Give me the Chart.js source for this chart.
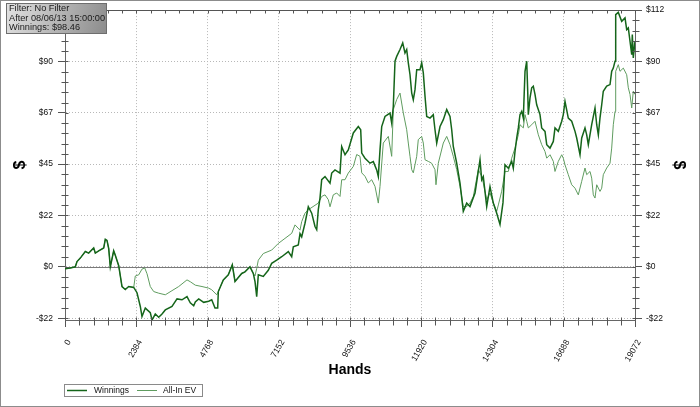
<!DOCTYPE html>
<html>
<head>
<meta charset="utf-8">
<title>Winnings</title>
<script src="https://cdn.jsdelivr.net/npm/chart.js@4.4.0/dist/chart.umd.min.js"></script>
<style>
  html, body { margin: 0; padding: 0; background: #fff; }
  #wrap { width: 700px; height: 407px; }
</style>
</head>
<body>
<div id="wrap"><canvas id="myChart" width="700" height="407"></canvas></div>
<script>
// hands played (x) and dollars (y)
let winHands = [
  0, 177, 345, 402, 512, 679, 793, 960, 1014, 1128, 1295, 1348, 1405, 1462, 1516, 1629, 1683, 1797,
  1907, 2018, 2131, 2299, 2409, 2520, 2576, 2687, 2854, 2911, 3021, 3135, 3246, 3356, 3580, 3748,
  3915, 4082, 4192, 4306, 4360, 4474, 4641, 4808, 4909, 5019, 5109, 5130, 5297, 5464, 5598, 5688,
  5912, 6022, 6190, 6300, 6357, 6414, 6468, 6635, 6802, 6916, 7083, 7251, 7472, 7585, 7639, 7806,
  7863, 7920, 8030, 8141, 8255, 8365, 8422, 8475, 8532, 8589, 8700, 8867, 8924, 9034, 9202, 9258,
  9369, 9479, 9647, 9814, 9894, 9928, 10038, 10205, 10316, 10429, 10483, 10540, 10597, 10707, 10875,
  10931, 10985, 11042, 11099, 11209, 11300, 11376, 11433, 11487, 11544, 11601, 11654, 11711, 11768,
  11878, 11935, 11989, 12046, 12103, 12213, 12323, 12380, 12437, 12548, 12658, 12772, 12882, 12939,
  12992, 13106, 13217, 13327, 13441, 13551, 13719, 13886, 13943, 13996, 14110, 14220, 14331, 14445,
  14555, 14655, 14722, 14833, 14947, 15000, 15057, 15114, 15168, 15224, 15281, 15335, 15392, 15449,
  15482, 15502, 15559, 15616, 15669, 15726, 15783, 15893, 15950, 16061, 16118, 16228, 16339, 16395,
  16506, 16620, 16673, 16730, 16840, 16954, 17065, 17121, 17232, 17289, 17399, 17456, 17510, 17623,
  17734, 17791, 17845, 17901, 17958, 18011, 18125, 18236, 18292, 18346, 18403, 18426, 18513, 18627,
  18738, 18794, 18848, 18905, 18962, 18982, 19015, 19072
];
let winnings = [
  -0.9, -0.5, 0, 2.3, 3.8, 6.7, 6, 8.2, 6, 7, 8.2, 12, 11.5, 8, 0, 7, 5, 0.5,
  -8.6, -9.9, -8.6, -9, -11.3, -17.3, -21.7, -18, -20, -23.2, -20.6, -22, -20.6, -18.8, -17.3, -14,
  -14.4, -13, -15.7, -17, -15.3, -14, -15.5, -15, -14.4, -18, -18, -10.8, -5.7, -3.5, 0.9, -6.4,
  -2.9, -2.2, 0, -2.9, -6.4, -13, -3.5, -4.2, -1.5, 1.5, 2.9, 4.4, 6.6, 4.4, 8.7, 9.5,
  14.5, 13.1, 19, 26.2, 23.4, 17.6, 16.2, 24.9, 30, 38, 39.4, 36.5, 40.9, 42.3, 40.9, 52.5,
  48.9, 51, 58.4, 61.2, 59.8, 49.6, 47.4, 45.2, 45.9, 42.3, 39.4, 51, 61.2, 65.6, 67.1,
  62.7, 70, 89.7, 91.8, 94.8, 97.7, 93.3, 94.8, 89, 83.8, 75.8, 72.9, 77.3, 86,
  86, 89, 84.6, 74.4, 65.6, 64.9, 66.4, 59.8, 54, 61.2, 64.2, 68.6, 65.6, 59.8,
  52.5, 45.2, 36.5, 24.2, 27.8, 26.3, 32.2, 46.7, 38, 39.4, 26.3, 35, 27.8, 23.4,
  18.5, 28, 44.5, 43, 46, 43, 50.3, 56.2, 60.6, 66.4, 67.8, 64.9, 85.3, 89.7,
  76.6, 66.4, 73.7, 78.1, 78.8, 75.2, 70.7, 66.4, 60.6, 59.1, 53.3, 51.8, 54.7, 60.6,
  59.1, 63.5, 66.4, 72.2, 64.9, 63.5, 59.1, 56.2, 48.9, 56.2, 60.6, 57.6, 53.3, 62,
  69.3, 62, 57.6, 65, 70.7, 76.6, 78.8, 79.5, 85.3, 86.7, 89.7, 110, 111, 107.1,
  108.6, 103.5, 104.2, 98.4, 92.6, 101.3, 91.1, 98.46
];

let evHands = [
  0, 177, 345, 402, 512, 679, 793, 960, 1014, 1128, 1295, 1348, 1405, 1462, 1516, 1629, 1683, 1797,
  1907, 2018, 2131, 2299, 2352, 2466, 2576, 2667, 2744, 2854, 2968, 3135, 3356, 3580, 3804, 4082,
  4192, 4360, 4584, 4808, 4909, 5076, 5130, 5297, 5464, 5598, 5688, 5912, 6022, 6190, 6300, 6357,
  6414, 6468, 6635, 6916, 7137, 7361, 7585, 7696, 7863, 7920, 8030, 8141, 8475, 8589, 8700, 8810,
  8867, 8977, 9091, 9202, 9258, 9369, 9479, 9647, 9760, 9871, 9928, 10038, 10148, 10262, 10373,
  10483, 10540, 10650, 10818, 10931, 10985, 11099, 11209, 11320, 11433, 11487, 11544, 11601, 11654,
  11768, 11821, 11935, 11989, 12046, 12156, 12267, 12380, 12413, 12490, 12658, 12772, 12882, 12992,
  13106, 13217, 13327, 13441, 13551, 13662, 13829, 13943, 13996, 14110, 14220, 14331, 14445, 14500,
  14612, 14722, 14833, 14947, 15057, 15168, 15224, 15335, 15392, 15449, 15502, 15616, 15726, 15837,
  15950, 16061, 16118, 16228, 16339, 16395, 16506, 16620, 16673, 16730, 16840, 16954, 17065, 17175,
  17289, 17399, 17456, 17567, 17623, 17677, 17734, 17791, 17901, 17958, 18011, 18125, 18236, 18292,
  18346, 18403, 18426, 18513, 18570, 18681, 18794, 18848, 18905, 18962, 19015, 19072
];
let allInEV = [
  -0.9, -0.5, 0, 2.3, 3.8, 6.7, 6, 8.2, 6, 7, 8.2, 12, 11.5, 8, 0, 7, 5, 0.5,
  -8.6, -9.9, -8.6, -9, -4, -3.5, -1, -0.5, -3, -8.6, -10.8, -11.5, -12.2, -10.4, -8.6, -5.7,
  -6.5, -8, -8.6, -9.3, -10, -12.2, -10.8, -5.7, -3.5, 0.9, -6.4, -2.9, -2.2, 0, -2.9, -4,
  -0.7, 2.9, 5.8, 7.3, 10.2, 12.4, 14.6, 18.3, 16, 19.7, 23.4, 24.9, 27.8, 30.7, 31.4, 29.3,
  26.2, 31.4, 32.2, 30.7, 38, 38, 40.9, 43.8, 49, 48.2, 41, 39.5, 36.6, 38, 35.1,
  27.8, 35.1, 54, 56.9, 48.2, 68.6, 73, 75.8, 67.1, 59.8, 54, 48.2, 42.4, 41,
  48.2, 55.5, 56.9, 54, 46.7, 46, 45.2, 42.4, 35.8, 45.2, 54, 56.9, 53.3, 48.2,
  42.4, 35.1, 26.3, 26.3, 27.8, 30.7, 42.4, 39.5, 36.6, 29.3, 32.2, 27.8, 24.2, 27,
  33, 41.6, 41.6, 47.4, 51.8, 57.6, 62, 60.6, 66.4, 63.5, 60.6, 62, 63.5, 57.6,
  53.3, 50.3, 47.4, 48.9, 46, 41.6, 46, 48.9, 47.4, 44.5, 40.2, 35.8, 34.3, 31.4,
  37.3, 43.1, 40.2, 41.6, 38.7, 31.4, 30, 35.8, 32.9, 34.3, 40.2, 43.1, 45.2, 51.8,
  62, 67.8, 85.3, 88.2, 85.3, 86.7, 83.8, 78.1, 75.2, 69.3, 76.6, 75.2
];

let xTicks = [0, 2384, 4768, 7152, 9536, 11920, 14304, 16688, 19072];
let yTicks = [-22.4, 0, 22.4, 44.8, 67.2, 89.6, 112];
let yMin = -23.2;
let yMax = 112;

let infoLines = ['Filter: No Filter', 'After 08/06/13 15:00:00', 'Winnings: $98.46'];

let winColor = '#15651a';
let evColor = '#5f9c5f';
let tickFont = { family: 'Liberation Sans', size: 8.5 };

function dollars(v) {
    let r = Math.round(Math.abs(v));
    return (v < -0.01 ? '-$' : '$') + r;
}

function pairs(xs, ys) {
    return xs.map((x, i) => ({ x: x, y: ys[i] }));
}

// minor ticks, top frame, zero line, legend, info box, outer border
let decorations = {
    id: 'decorations',
    beforeDatasetsDraw(chart) {
        let ctx = chart.ctx;
        let a = chart.chartArea;
        let zy = Math.round(chart.scales.y.getPixelForValue(0)) + 0.5;
        ctx.save();
        ctx.strokeStyle = '#7a7a7a';
        ctx.lineWidth = 1;
        ctx.beginPath();
        ctx.moveTo(a.left, zy);
        ctx.lineTo(a.right, zy);
        ctx.stroke();
        ctx.restore();
    },
    afterDraw(chart) {
        let ctx = chart.ctx;
        let a = chart.chartArea;
        let xs = chart.scales.x;
        let ys = chart.scales.y;
        ctx.save();
        ctx.strokeStyle = '#555';
        ctx.lineWidth = 1;
        ctx.beginPath();

        // top frame line
        let top = Math.round(a.top) + 0.5;
        ctx.moveTo(a.left, top);
        ctx.lineTo(a.right, top);

        // x ticks (minor below, small ones on top edge)
        let bot = Math.round(a.bottom) + 0.5;
        for (let i = 0; i < xTicks.length; i++) {
            let px = Math.round(xs.getPixelForValue(xTicks[i])) + 0.5;
            ctx.moveTo(px, bot - 3); ctx.lineTo(px, bot);
            ctx.moveTo(px, top); ctx.lineTo(px, top + 3);
            if (i === xTicks.length - 1) break;
            let step = (xTicks[i + 1] - xTicks[i]) / 5;
            for (let k = 1; k < 5; k++) {
                let mx = Math.round(xs.getPixelForValue(xTicks[i] + k * step)) + 0.5;
                ctx.moveTo(mx, bot - 3); ctx.lineTo(mx, bot + 5);
                ctx.moveTo(mx, top); ctx.lineTo(mx, top + 3);
            }
        }

        // y ticks (minor on both sides)
        let lx = Math.round(a.left) + 0.5;
        let rx = Math.round(a.right) + 0.5;
        for (let i = 0; i < yTicks.length; i++) {
            let py = Math.round(ys.getPixelForValue(yTicks[i])) + 0.5;
            ctx.moveTo(lx, py); ctx.lineTo(lx + 3, py);
            ctx.moveTo(rx - 3, py); ctx.lineTo(rx, py);
            if (i === yTicks.length - 1) break;
            let step = (yTicks[i + 1] - yTicks[i]) / 5;
            for (let k = 1; k < 5; k++) {
                let my = Math.round(ys.getPixelForValue(yTicks[i] + k * step)) + 0.5;
                ctx.moveTo(lx - 4, my); ctx.lineTo(lx + 3, my);
                ctx.moveTo(rx - 3, my); ctx.lineTo(rx + 4, my);
            }
        }
        ctx.stroke();

        // legend
        ctx.strokeStyle = '#8a8a8a';
        ctx.fillStyle = '#fff';
        ctx.fillRect(64.5, 384.5, 138, 12);
        ctx.strokeRect(64.5, 384.5, 138, 12);
        ctx.lineWidth = 1.5;
        ctx.strokeStyle = winColor;
        ctx.beginPath(); ctx.moveTo(67, 390.5); ctx.lineTo(87, 390.5); ctx.stroke();
        ctx.lineWidth = 1;
        ctx.strokeStyle = evColor;
        ctx.beginPath(); ctx.moveTo(137, 390.5); ctx.lineTo(157, 390.5); ctx.stroke();
        ctx.fillStyle = '#111';
        ctx.font = '8.5px "Liberation Sans"';
        ctx.textBaseline = 'middle';
        ctx.fillText(chart.data.datasets[0].label, 94, 391);
        ctx.fillText(chart.data.datasets[1].label, 163, 391);

        // info box
        let g = ctx.createLinearGradient(6, 3, 106, 33);
        g.addColorStop(0, '#e2e2e2');
        g.addColorStop(1, '#8c8c8c');
        ctx.fillStyle = g;
        ctx.fillRect(6.5, 3.5, 100, 30);
        ctx.strokeStyle = '#6e6e6e';
        ctx.strokeRect(6.5, 3.5, 100, 30);
        ctx.fillStyle = '#1a1a1a';
        ctx.font = '9.2px "Liberation Sans"';
        infoLines.forEach((t, i) => ctx.fillText(t, 9, 8.5 + i * 9.5));

        // outer border
        ctx.strokeStyle = '#8c8c8c';
        ctx.strokeRect(0.5, 0.5, 699, 406);
        ctx.restore();
    }
};

let gridColor = '#b8b8b8';

let canvas = document.getElementById('myChart');
let ctx = canvas.getContext('2d');

let myChart = new Chart(ctx, {
    type: 'line',
    data: {
        datasets: [
            {
                label: 'Winnings',
                data: pairs(winHands, winnings),
                borderColor: winColor,
                borderWidth: 1.5,
                pointRadius: 0,
                tension: 0
            },
            {
                label: 'All-In EV',
                data: pairs(evHands, allInEV),
                borderColor: evColor,
                borderWidth: 1,
                pointRadius: 0,
                tension: 0
            }
        ]
    },
    options: {
        responsive: false,
        devicePixelRatio: 1,
        animation: false,
        layout: { padding: { top: 10, right: 0, bottom: 0, left: 0 } },
        plugins: {
            legend: { display: false },
            tooltip: { enabled: false }
        },
        scales: {
            x: {
                type: 'linear',
                min: 0,
                max: 19072,
                afterFit(s) { s.height = 87; },
                afterBuildTicks(s) { s.ticks = xTicks.map(v => ({ value: v })); },
                ticks: {
                    callback: v => String(v),
                    font: tickFont,
                    color: '#111',
                    minRotation: 60,
                    maxRotation: 60,
                    autoSkip: false,
                    padding: 11,
                    labelOffset: 4
                },
                grid: { color: gridColor, tickColor: '#555', tickLength: 7 },
                border: { color: '#666', dash: [1, 2] },
                title: {
                    display: true,
                    text: 'Hands',
                    color: '#000',
                    font: { family: 'Liberation Sans', size: 14, weight: 'bold' },
                    padding: { top: 0, bottom: 28 }
                }
            },
            y: {
                type: 'linear',
                position: 'left',
                min: yMin,
                max: yMax,
                afterFit(s) { s.width = 65; },
                afterBuildTicks(s) { s.ticks = yTicks.map(v => ({ value: v })); },
                ticks: { callback: dollars, font: tickFont, color: '#111', padding: 5 },
                grid: { color: gridColor, tickColor: '#555', tickLength: 7 },
                border: { color: '#666', dash: [1, 2] },
                title: {
                    display: true,
                    text: '$',
                    color: '#000',
                    font: { family: 'Liberation Sans', size: 16, weight: 'bold' },
                    padding: { top: 11, bottom: 0 }
                }
            },
            y2: {
                type: 'linear',
                position: 'right',
                min: yMin,
                max: yMax,
                afterFit(s) { s.width = 65; },
                afterBuildTicks(s) { s.ticks = yTicks.map(v => ({ value: v })); },
                ticks: { callback: dollars, font: tickFont, color: '#111', padding: 4 },
                grid: { drawOnChartArea: false, tickColor: '#555', tickLength: 7 },
                border: { color: '#666' },
                title: {
                    display: true,
                    text: '$',
                    color: '#000',
                    font: { family: 'Liberation Sans', size: 16, weight: 'bold' },
                    padding: { top: 12, bottom: 0 }
                }
            }
        }
    },
    plugins: [decorations]
});
</script>
</body>
</html>
